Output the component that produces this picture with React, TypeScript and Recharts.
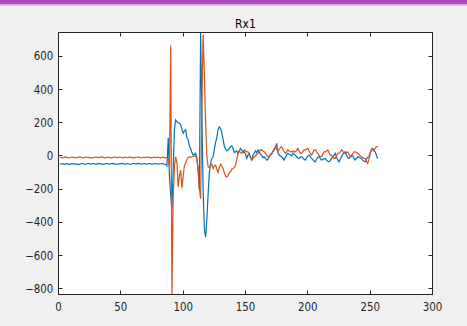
import { LineChart, Line, XAxis, YAxis, ReferenceArea } from 'recharts';

const xTicks = [0, 50, 100, 150, 200, 250, 300];
const yTicks = [-800, -600, -400, -200, 0, 200, 400, 600];
const xDomain: [number, number] = [0, 300];
const yDomain: [number, number] = [-834, 743];

// Rx1, column 1 (blue), samples 1..256
const blueRx1 = [
  -47, -49, -48, -46, -50, -48, -47, -49, -51, -48,
  -46, -47, -49, -48, -50, -52, -49, -47, -46, -48,
  -50, -49, -47, -45, -47, -49, -48, -46, -47, -50,
  -48, -46, -45, -47, -49, -51, -48, -47, -46, -48,
  -49, -47, -45, -46, -48, -50, -49, -47, -48, -46,
  -45, -47, -49, -48, -46, -47, -49, -50, -48, -46,
  -47, -48, -46, -45, -47, -49, -48, -47, -46, -48,
  -49, -47, -46, -48, -50, -48, -47, -46, -47, -49,
  -48, -47, -46, -48, -49, -50,
  -60, 110, -120, -240, -317, -80, 160, 217, 205, 200, 197, 187, 160, 137,
  150, 157, 110, 96, 60, 45, 20, 5, 10, 16, -10, -90, -207, 743, 250, -200, -440, -489, -380, -230,
  -100, -45, -15, -5, 40, 80, 110, 160, 175, 165, 140, 100, 60, 40, 30, 36, 46, 55, 60, 45,
  20, 25, 30, 16, 30, 45, 36, 20, 25, 10, -15, 5, 16, -10, -25, 5, 16, 30, 20, 36,
  25, 10, 5, -10, -5, -15, -25, -20, -5, 5, 10, 25, 36, 50, 76, 20, 5, 0, -5, -15,
  -25, -10, 5, 16, 10, 5, 0, 16, 10,
  5, -5, -12, -15, -8, -5, -12, -20, -25, -10,
  0, 5, -5, -15, -22, -30, -35, -20, -8, -5,
  -15, -25, -20, -18, -15, -25, -32, -35, -28, -15,
  -5, 5, 16, -5, -25, -35, -20, -5, 10, 20,
  25, 5, -10, -15, -5, 5, 0, -15, -25, -15,
  -5, -8, -12, -15, -25, -32, -35, -20, -8, -5,
  20, 40, 46, 30, 25, 5, -15,
];

// Rx1, column 2 (orange), samples 1..256
const orangeRx1 = [
  -8, -10, -12, -9, -7, -6, -9, -11, -10, -8,
  -7, -9, -10, -12, -9, -8, -6, -8, -10, -11,
  -9, -7, -8, -10, -9, -11, -12, -10, -8, -7,
  -9, -10, -8, -6, -7, -9, -11, -10, -8, -9,
  -10, -12, -10, -8, -7, -8, -10, -9, -7, -8,
  -10, -11, -9, -8, -10, -9, -7, -8, -10, -12,
  -10, -9, -8, -7, -9, -11, -10, -8, -9, -10,
  -8, -7, -9, -10, -11, -9, -8, -10, -9, -8,
  -10, -11, -9, -8, -10, -12,
  -10, -15, -60, 665, -834, -250, -60, -5, -40, -186, -120, -85, -194, -120,
  -60, -43, -20, -10, -5, -8, -5, -3, 0, 3, -20, -80, -200, -257, 300, 731, 500, 200, 0, -65,
  -70, -60, -50, -75, -60, -55, -80, -100, -70, -50, -60, -75, -100, -120, -126, -118, -100, -95, -80, -75,
  -70, -55, -20, 16, 30, 20, 16, 25, 36, 30, 25, 25, 5, -10, -25, -15, -5, 0, 10, 16,
  25, 36, 36, 30, 25, 15, 5, -5, 0, 10, 16, 30, 45, 56, 40, 25, 40, 50, 56, 40,
  25, 16, 25, 36, 30, 25, 25, 30, 25,
  25, 35, 46, 30, 16, 16, 25, 36, 36, 40,
  46, 30, 15, 5, 20, 36, 36, 25, 16, 5,
  -5, -5, 10, 25, 25, 30, 36, 20, 5, 5,
  -5, -15, -15, 0, 16, 16, 25, 36, 30, 16,
  16, 20, 25, 10, -5, -5, 10, 25, 25, 20,
  16, 10, 0, -5, -10, -15, -15, -30, -45, -20,
  10, 36, 40, 30, 46, 56, 56,
];

const data = blueRx1.map((v, i) => ({ n: i + 1, blue: v, orange: orangeRx1[i] }));

const FONT = "'DejaVu Sans Condensed', 'DejaVu Sans', sans-serif";
const AXIS = '#262626';
const fmt = (v: number) => (v < 0 ? '\u2212' + Math.abs(v) : String(v));

// axes box (plot area) in page pixels
const L = 58.5;
const R = 432.5;
const T = 32.5;
const B = 294.5;
const TICK = 4;
const px = (t: number) => Math.round(L + ((t - xDomain[0]) / (xDomain[1] - xDomain[0])) * (R - L) - 0.5) + 0.5;
const py = (v: number) => Math.round(T + ((yDomain[1] - v) / (yDomain[1] - yDomain[0])) * (B - T) - 0.5) + 0.5;

export default function App() {
  return (
    <div style={{ position: 'fixed', left: 0, top: 0, width: 467, height: 326, background: '#f0f0f0' }}>
      <LineChart width={467} height={326} data={data} margin={{ top: T, right: 467 - R, bottom: 326 - B - 30, left: L - 50 }}>
        <XAxis
          dataKey="n"
          type="number"
          domain={xDomain}
          ticks={xTicks}
          height={30}
          tickSize={0}
          tickMargin={8.4}
          axisLine={false}
          tickLine={false}
          tick={{ fill: AXIS, fontSize: 11.4, fontFamily: FONT }}
        />
        <YAxis
          type="number"
          domain={yDomain}
          allowDataOverflow
          ticks={yTicks}
          width={50}
          tickSize={0}
          tickMargin={5.2}
          tickFormatter={fmt}
          axisLine={false}
          tickLine={false}
          tick={{ fill: AXIS, fontSize: 11.4, fontFamily: FONT }}
        />
        <ReferenceArea x1={xDomain[0]} x2={xDomain[1]} y1={yDomain[0]} y2={yDomain[1]} fill="#ffffff" fillOpacity={1} stroke="none" />
        <Line type="linear" dataKey="blue" stroke="#0072BD" strokeWidth={1.2} dot={false} isAnimationActive={false} />
        <Line type="linear" dataKey="orange" stroke="#D95319" strokeWidth={1.2} dot={false} isAnimationActive={false} />
      </LineChart>
      <svg width={467} height={326} style={{ position: 'absolute', left: 0, top: 0, pointerEvents: 'none' }}>
        <rect x={0} y={0} width={467} height={4.5} fill="#b24ac2" />
        <rect x={0} y={4.5} width={467} height={1.5} fill="#dcc4e2" />
        <text x={245.5} y={28.3} textAnchor="middle" fontSize={12} fontFamily={FONT} fill="#000">Rx1</text>
        <g stroke={AXIS} strokeWidth={1} fill="none">
          <rect x={L} y={T} width={R - L} height={B - T} />
          {xTicks.map((t) => (
            <path key={'x' + t} d={`M${px(t)},${B}v${-TICK}M${px(t)},${T}v${TICK}`} />
          ))}
          {yTicks.map((v) => (
            <path key={'y' + v} d={`M${L},${py(v)}h${TICK}M${R},${py(v)}h${-TICK}`} />
          ))}
        </g>
      </svg>
    </div>
  );
}
